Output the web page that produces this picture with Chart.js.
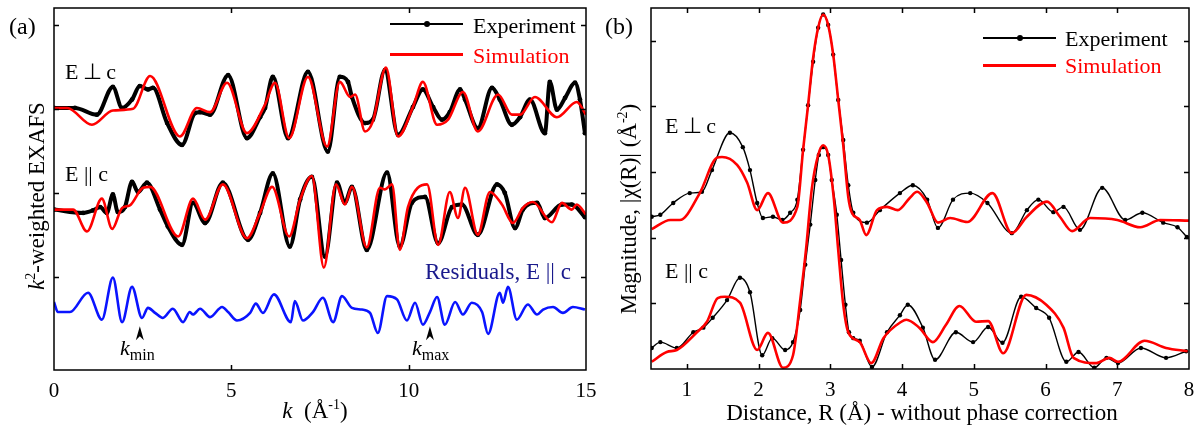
<!DOCTYPE html>
<html><head><meta charset="utf-8">
<script src="https://cdn.jsdelivr.net/npm/chart.js@4.4.1/dist/chart.umd.min.js"></script>
<style>
body{margin:0;background:#fff;width:1196px;height:430px;overflow:hidden;position:relative;font-family:"Liberation Serif","Times New Roman",serif;}
.t{position:absolute;white-space:nowrap;line-height:1;color:#000;}
canvas{position:absolute;top:0}
.ln{position:absolute;}
sub{font-size:16px;vertical-align:baseline;position:relative;top:5px;}
sup{font-size:14px;vertical-align:baseline;position:relative;top:-9px;}
</style></head><body>
<canvas id="ca" width="598" height="430" style="left:0"></canvas>
<canvas id="cb" width="598" height="430" style="left:598px"></canvas>

<div class="t" style="left:9px;top:14px;font-size:24px">(a)</div>
<div class="t" style="left:605px;top:14px;font-size:24px">(b)</div>
<div class="t" style="left:65px;top:61px;font-size:22px">E&#8201;&#8869;&#8201;c</div>
<div class="t" style="left:65px;top:163px;font-size:22px">E || c</div>
<div class="t" style="left:425px;top:260px;font-size:23px;color:#1a1a8c">Residuals, E || c</div>
<div class="t" style="left:665px;top:115px;font-size:22px">E&#8201;&#8869;&#8201;c</div>
<div class="t" style="left:665px;top:260px;font-size:22px">E || c</div>
<div class="t" style="left:120px;top:337px;font-size:22px"><i>k</i><sub>min</sub></div>
<div class="t" style="left:412px;top:337px;font-size:22px"><i>k</i><sub>max</sub></div>

<div class="ln" style="left:390px;top:23px;width:73px;height:1.5px;background:#000"></div>
<div class="ln" style="left:424px;top:21px;width:6px;height:6px;border-radius:3px;background:#000"></div>
<div class="t" style="left:473px;top:15px;font-size:22px">Experiment</div>
<div class="ln" style="left:390px;top:52.5px;width:73px;height:3px;background:#ff0000"></div>
<div class="t" style="left:473px;top:45px;font-size:22px;color:#ff0000">Simulation</div>

<div class="ln" style="left:983px;top:37px;width:73px;height:1.5px;background:#000"></div>
<div class="ln" style="left:1017px;top:35px;width:6px;height:6px;border-radius:3px;background:#000"></div>
<div class="t" style="left:1065px;top:28px;font-size:22px">Experiment</div>
<div class="ln" style="left:983px;top:63.5px;width:73px;height:3px;background:#ff0000"></div>
<div class="t" style="left:1065px;top:55px;font-size:22px;color:#ff0000">Simulation</div>

<div class="t" style="left:215px;width:200px;text-align:center;top:399px;font-size:23px"><i>k</i>&nbsp; (Å<sup>-1</sup>)</div>
<div class="t" style="left:622px;width:600px;text-align:center;top:401px;font-size:23px">Distance, R (Å) - without phase correction</div>
<div class="t" style="left:36px;top:196px;font-size:23px;transform:translate(-50%,-50%) rotate(-90deg)"><i>k</i><sup>2</sup>-weighted EXAFS</div>
<div class="t" style="left:628px;top:209px;font-size:23px;transform:translate(-50%,-50%) rotate(-90deg)">Magnitude, |χ(R)| (Å<sup>-2</sup>)</div>

<script>
// ---------- Panel (a): k-space ----------
const xTicksA = [0, 5, 10, 15];
const yTicksA = [1, 2, 3, 4];
const kMarks = [2.42, 10.6];     // k_min, k_max arrow positions
const kMarkTip = 0.41;

const kPerpExp = [0,0.59,1.21,1.66,1.92,2.20,2.42,2.65,2.79,3.19,3.61,3.98,4.12,4.40,4.91,5.44,5.81,5.95,6.17,6.60,7.16,7.72,8.06,8.29,8.40,8.77,8.99,9.33,9.70,10.12,10.40,10.69,10.94,11.16,11.45,11.59,11.95,12.35,12.57,12.91,13.14,13.42,13.84,13.98,14.18,14.41,14.69,14.83,14.97];
const chiPerpExp = [3.01,3.01,2.93,3.26,3.01,3.11,3.27,3.23,3.25,2.83,2.57,2.95,2.96,2.93,3.40,2.65,2.90,3.01,3.38,2.65,3.44,2.49,3.38,3.32,3.14,2.83,2.87,3.46,2.69,3.02,3.23,3.02,2.87,2.96,3.23,3.11,2.77,3.25,3.11,2.81,2.90,3.11,2.71,3.32,2.99,3.13,3.31,3.11,2.71];

const kPerpSim = [0,0.37,1.07,1.66,2.23,2.71,3.55,4.03,4.40,4.88,5.44,5.95,6.23,6.63,7.16,7.70,8.06,8.35,8.49,8.77,8.99,9.36,9.70,10.12,10.40,10.80,11.11,11.53,11.95,12.52,12.91,13.14,13.56,14.18,14.74,15.0];
const chiPerpSim = [3.01,3.01,2.81,2.98,3.00,3.39,2.67,3.01,2.96,3.31,2.71,3.05,3.31,2.65,3.38,2.55,3.32,3.14,3.17,2.73,2.85,3.49,2.67,3.02,3.32,2.81,2.87,3.20,2.73,3.17,2.93,2.93,3.14,2.90,3.08,2.93];

const kParExp = [0,0.82,1.10,1.30,1.49,1.66,1.80,2.00,2.20,2.37,2.62,2.99,3.21,3.61,3.92,4.26,4.76,5.47,5.81,6.17,6.65,6.94,7.27,7.64,7.98,8.20,8.40,8.82,9.39,9.75,10.09,10.46,10.83,11.22,11.50,11.95,12.49,12.71,13.00,13.22,13.62,13.84,14.32,14.60,14.97];
const chiParExp = [1.80,1.76,1.79,1.83,1.76,1.98,1.77,1.83,2.13,2.01,2.12,1.80,1.60,1.38,1.88,1.64,2.12,1.44,1.76,2.23,1.36,1.92,2.19,1.24,2.12,1.88,2.07,1.32,2.24,1.36,1.88,1.95,1.40,1.83,1.86,1.50,2.10,2.00,1.58,1.80,1.88,1.70,1.86,1.86,1.71];

const kParSim = [0,0.54,0.93,1.35,1.64,1.92,2.14,2.51,2.71,3.50,3.92,4.26,4.76,5.44,5.81,6.15,6.63,6.94,7.27,7.61,7.95,8.20,8.40,8.82,9.19,9.33,9.53,9.75,9.98,10.52,10.83,11.16,11.39,11.59,11.95,12.29,12.63,12.94,13.22,13.50,14.04,14.32,14.60,14.74,15.0];
const chiParSim = [1.80,1.80,1.54,1.93,1.57,1.82,1.85,2.06,2.07,1.48,1.93,1.68,2.10,1.46,1.76,2.07,1.48,1.92,2.20,1.11,2.10,1.86,2.07,1.35,2.06,2.04,2.10,1.32,1.83,2.10,1.38,2.01,1.70,2.06,1.50,2.01,1.86,1.64,1.82,1.89,1.65,1.88,1.80,1.86,1.74];

const kRes = [0,0.11,0.45,0.96,1.35,1.66,1.92,2.20,2.48,2.65,2.85,3.07,3.35,3.64,3.83,3.92,4.12,4.40,4.74,4.91,5.16,5.53,5.69,5.89,6.20,6.68,6.79,7.02,7.30,7.58,7.87,8.12,8.40,8.68,8.91,9.13,9.39,9.67,9.95,10.18,10.40,10.60,10.80,11.02,11.31,11.53,11.78,12.07,12.24,12.57,12.66,12.80,13.05,13.36,13.62,13.79,14.07,14.35,14.63,14.97];
const chiRes = [0.70,0.58,0.58,0.81,0.49,0.99,0.46,0.88,0.51,0.63,0.57,0.51,0.62,0.46,0.58,0.55,0.62,0.52,0.64,0.58,0.48,0.57,0.68,0.57,0.79,0.46,0.71,0.48,0.58,0.75,0.46,0.77,0.63,0.61,0.57,0.33,0.77,0.73,0.48,0.69,0.43,0.58,0.76,0.43,0.70,0.55,0.69,0.58,0.32,0.81,0.69,0.88,0.49,0.67,0.55,0.61,0.64,0.57,0.64,0.61];

// ---------- Panel (b): R-space ----------
const xTicksB = [1, 2, 3, 4, 5, 6, 7, 8];
const yTicksB = [1, 2, 3, 4, 5];

const RPerpExp = [0.51,0.63,0.81,1.04,1.21,1.35,1.60,1.78,1.88,1.98,2.06,2.20,2.33,2.44,2.54,2.62,2.69,2.76,2.83,2.90,2.97,3.04,3.11,3.18,3.25,3.32,3.51,3.69,3.97,4.15,4.35,4.50,4.71,4.95,5.19,5.53,5.74,5.90,6.11,6.25,6.48,6.79,7.11,7.35,7.64,7.84,7.97];
const magPerpExp = [2.32,2.35,2.53,2.68,2.70,3.03,3.60,3.38,3.03,2.53,2.30,2.32,2.27,2.38,2.58,3.34,4.02,4.68,5.20,5.40,5.24,4.79,4.10,3.49,2.80,2.38,2.23,2.42,2.68,2.80,2.58,2.15,2.58,2.68,2.53,2.07,2.42,2.58,2.39,2.47,2.12,2.76,2.27,2.38,2.23,2.16,2.01];

const RPerpSim = [0.51,0.77,0.90,1.18,1.42,1.49,1.70,1.84,1.98,2.13,2.34,2.54,2.62,2.69,2.76,2.83,2.90,2.97,3.04,3.11,3.18,3.25,3.30,3.41,3.50,3.65,3.79,3.94,4.11,4.21,4.35,4.50,4.67,4.91,5.26,5.53,5.74,6.02,6.20,6.37,6.62,7.00,7.32,7.60,8.0];
const magPerpSim = [2.13,2.27,2.27,2.68,3.22,3.23,3.11,2.84,2.42,2.68,2.23,2.47,3.34,4.02,4.74,5.20,5.40,5.24,4.79,4.10,3.41,2.62,2.38,2.27,2.04,2.42,2.47,2.42,2.61,2.70,2.53,2.23,2.30,2.24,2.68,2.07,2.32,2.55,2.32,2.10,2.30,2.27,2.16,2.27,2.26];

const RParExp = [0.51,0.63,0.86,1.09,1.23,1.36,1.56,1.74,1.88,2.05,2.19,2.37,2.48,2.58,2.65,2.72,2.79,2.84,2.90,2.97,3.02,3.09,3.15,3.21,3.26,3.32,3.41,3.58,3.79,3.97,4.08,4.29,4.46,4.75,4.99,5.20,5.40,5.66,5.87,6.05,6.29,6.46,6.68,6.85,7.01,7.33,7.68,7.96];
const magParExp = [0.32,0.41,0.32,0.56,0.63,0.78,1.05,1.39,1.17,0.21,0.47,0.29,0.41,0.90,1.59,2.20,2.88,3.26,3.38,3.26,2.88,2.35,1.66,0.98,0.56,0.47,0.43,0.03,0.56,0.82,0.98,0.63,0.14,0.56,0.41,0.64,0.40,1.10,0.93,0.78,0.11,0.26,0.02,0.17,0.09,0.32,0.17,0.27];

const RParSim = [0.51,0.72,0.86,1.14,1.28,1.43,1.53,1.74,1.98,2.13,2.34,2.48,2.58,2.66,2.74,2.83,2.90,2.97,3.05,3.11,3.18,3.25,3.41,3.57,3.74,3.99,4.06,4.24,4.43,4.61,4.80,5.03,5.20,5.41,5.73,6.01,6.25,6.39,6.71,6.89,7.01,7.38,7.68,7.98];
const magParSim = [0.11,0.26,0.29,0.56,0.72,1.08,1.10,1.01,0.29,0.55,0.02,0.21,1.05,1.81,2.73,3.26,3.41,3.26,2.58,1.81,0.98,0.56,0.41,0.09,0.47,0.72,0.75,0.63,0.41,0.67,0.96,0.72,0.73,0.24,1.13,0.98,0.63,0.17,0.09,0.17,0.11,0.43,0.32,0.27];

const zip = (xs, ys) => xs.map((v, i) => ({x: v, y: ys[i]}));
const RED = '#ff0000', BLACK = '#000000', BLUE = '#0a14ff';

const framePlugin = {
  id: 'frame',
  afterDatasetsDraw(chart, args, opts) {
    const {ctx, chartArea: a, scales: {x, y}} = chart;
    ctx.save();
    ctx.strokeStyle = '#000'; ctx.lineWidth = 1.5;
    ctx.strokeRect(a.left, a.top, a.right - a.left, a.bottom - a.top);
    const L = 5;
    ctx.beginPath();
    opts.xTicks.forEach(v => {
      const px = Math.round(x.getPixelForValue(v)) + 0.5;
      if (px > a.left + 2 && px < a.right - 2) {
        ctx.moveTo(px, a.bottom); ctx.lineTo(px, a.bottom - L);
        ctx.moveTo(px, a.top); ctx.lineTo(px, a.top + L);
      }
    });
    opts.yTicks.forEach(v => {
      const py = Math.round(y.getPixelForValue(v)) + 0.5;
      ctx.moveTo(a.left, py); ctx.lineTo(a.left + L, py);
      ctx.moveTo(a.right, py); ctx.lineTo(a.right - L, py);
    });
    ctx.stroke();
    (opts.arrows || []).forEach(v => {
      const px = x.getPixelForValue(v), tip = y.getPixelForValue(opts.arrowTip);
      ctx.beginPath();
      ctx.moveTo(px, tip); ctx.lineTo(px + 4, tip + 14); ctx.lineTo(px, tip + 10); ctx.lineTo(px - 4, tip + 14);
      ctx.closePath(); ctx.fillStyle = '#000'; ctx.fill();
    });
    ctx.restore();
  }
};

function xAxis(min, max, ticks, h) {
  return {
    type: 'linear', min, max,
    afterBuildTicks: s => { s.ticks = ticks.map(v => ({value: v})); },
    afterFit: s => { s.height = h; s.paddingLeft = 0; s.paddingRight = 0; },
    grid: {display: false, drawTicks: false},
    border: {display: false},
    ticks: {color: '#000', font: {family: 'Liberation Serif', size: 21}, padding: 9, maxRotation: 0, autoSkip: false}
  };
}
const lineDefaults = {fill: false, cubicInterpolationMode: 'monotone'};

new Chart(document.getElementById('ca'), {
  type: 'line',
  data: {datasets: [
    {...lineDefaults, data: zip(kPerpSim, chiPerpSim), borderColor: RED, borderWidth: 2.6, pointRadius: 0, order: 0},
    {...lineDefaults, data: zip(kParSim, chiParSim), borderColor: RED, borderWidth: 2.6, pointRadius: 0, order: 0},
    {...lineDefaults, data: zip(kPerpExp, chiPerpExp), borderColor: BLACK, borderWidth: 4, pointRadius: 2.4, pointBackgroundColor: BLACK, pointBorderWidth: 0, order: 1},
    {...lineDefaults, data: zip(kParExp, chiParExp), borderColor: BLACK, borderWidth: 4, pointRadius: 2.4, pointBackgroundColor: BLACK, pointBorderWidth: 0, order: 1},
    {...lineDefaults, data: zip(kRes, chiRes), borderColor: BLUE, borderWidth: 2.6, pointRadius: 0, order: 2}
  ]},
  options: {
    responsive: false, animation: false, events: [],
    layout: {padding: {left: 54, right: 12, top: 8, bottom: 0}},
    scales: {
      x: xAxis(0, 15, xTicksA, 60),
      y: {type: 'linear', min: -0.11, max: 4.2, display: false}
    },
    plugins: {legend: {display: false}, tooltip: {enabled: false},
      frame: {xTicks: xTicksA, yTicks: yTicksA, arrows: kMarks, arrowTip: kMarkTip}}
  },
  plugins: [framePlugin]
});

new Chart(document.getElementById('cb'), {
  type: 'line',
  data: {datasets: [
    {...lineDefaults, data: zip(RPerpSim, magPerpSim), borderColor: RED, borderWidth: 2.6, pointRadius: 0, order: 0},
    {...lineDefaults, data: zip(RParSim, magParSim), borderColor: RED, borderWidth: 2.6, pointRadius: 0, order: 0},
    {...lineDefaults, data: zip(RPerpExp, magPerpExp), borderColor: BLACK, borderWidth: 1.4, pointRadius: 2.2, pointBackgroundColor: BLACK, pointBorderWidth: 0, order: 1},
    {...lineDefaults, data: zip(RParExp, magParExp), borderColor: BLACK, borderWidth: 1.4, pointRadius: 2.2, pointBackgroundColor: BLACK, pointBorderWidth: 0, order: 1}
  ]},
  options: {
    responsive: false, animation: false, events: [],
    layout: {padding: {left: 53, right: 7, top: 8, bottom: 0}},
    scales: {
      x: xAxis(0.5, 8, xTicksB, 61),
      y: {type: 'linear', min: 0, max: 5.5, display: false}
    },
    plugins: {legend: {display: false}, tooltip: {enabled: false},
      frame: {xTicks: xTicksB, yTicks: yTicksB}}
  },
  plugins: [framePlugin]
});
</script>
</body></html>
